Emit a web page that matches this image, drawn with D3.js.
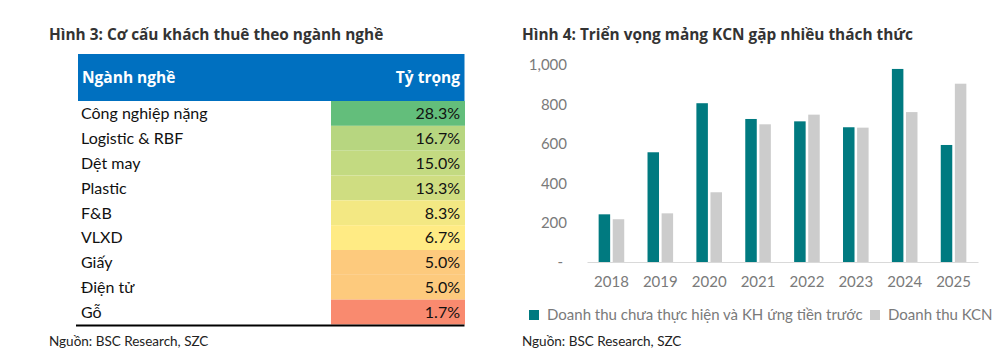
<!DOCTYPE html>
<html>
<head>
<meta charset="utf-8">
<script src="https://cdn.jsdelivr.net/npm/d3@7"></script>
<style>
  html, body { margin: 0; padding: 0; background: #fff; }
  svg { display: block; font-family: "Lato", "Open Sans", sans-serif; }
</style>
</head>
<body>
<svg id="chart" width="1006" height="359"></svg>
<script>
// ---- Data: left table ----
const leftTitle = "Hình 3: Cơ cấu khách thuê theo ngành nghề";
const tableHeaders = ["Ngành nghề", "Tỷ trọng"];
const industries = ["Công nghiệp nặng", "Logistic & RBF", "Dệt may", "Plastic", "F&B", "VLXD", "Giấy", "Điện tử", "Gỗ"];
const shares = [28.3, 16.7, 15.0, 13.3, 8.3, 6.7, 5.0, 5.0, 1.7];
const colorMidpoint = 6.7;

// ---- Data: right chart ----
const rightTitle = "Hình 4: Triển vọng mảng KCN gặp nhiều thách thức";
const years = ["2018", "2019", "2020", "2021", "2022", "2023", "2024", "2025"];
const seriesNames = ["Doanh thu chưa thực hiện và KH ứng tiền trước", "Doanh thu KCN"];
const unrealizedRevenue = [242, 557, 806, 726, 714, 684, 980, 594];
const kcnRevenue = [217, 247, 354, 699, 748, 682, 761, 905];
const yTicks = [0, 200, 400, 600, 800, 1000];
const sourceText = "Nguồn: BSC Research, SZC";

const svg = d3.select("#chart");
const boldFont = "'Open Sans', Lato, sans-serif";

// ================= LEFT TABLE =================
const L = svg.append("g");
L.append("text").attr("x", 49).attr("y", 40)
  .attr("font-family", boldFont)
  .attr("font-size", 15.4).attr("font-weight", 700).attr("fill", "#333")
  .text(leftTitle);

const tableX0 = 78, tableX1 = 464.5;
L.append("rect").attr("x", tableX0).attr("y", 54).attr("width", tableX1 - tableX0).attr("height", 47)
  .attr("fill", "#0070C0");
L.append("text").attr("x", 82).attr("y", 83).attr("font-size", 15.5).attr("font-weight", 700)
  .attr("font-family", boldFont).attr("fill", "#fff").text(tableHeaders[0]);
L.append("text").attr("x", 460).attr("y", 83).attr("font-size", 15.5).attr("font-weight", 700)
  .attr("font-family", boldFont).attr("fill", "#fff").attr("text-anchor", "end").text(tableHeaders[1]);

const rowY = d3.scaleBand().domain(industries).range([101, 324.5]).padding(0);
const colorScale = d3.scaleLinear()
  .domain([d3.min(shares), colorMidpoint, d3.max(shares)])
  .range(["#F98A6F", "#FFEB84", "#63BE7B"]);

const rows = L.selectAll("g.row").data(industries).join("g").attr("class", "row")
  .attr("transform", d => `translate(0,${rowY(d)})`);
rows.append("rect").attr("x", 331).attr("y", 0).attr("width", 134).attr("height", rowY.bandwidth())
  .attr("fill", (d, i) => colorScale(shares[i]));
rows.append("text").attr("x", 81).attr("y", rowY.bandwidth() / 2).attr("dy", "0.36em")
  .attr("font-size", 16).attr("fill", "#111").text(d => d);
rows.append("text").attr("x", 460).attr("y", rowY.bandwidth() / 2).attr("dy", "0.36em")
  .attr("font-size", 16).attr("fill", "#111").attr("text-anchor", "end")
  .text((d, i) => d3.format(".1f")(shares[i]) + "%");

L.append("line").attr("x1", 76).attr("x2", 464.5).attr("y1", 325.5).attr("y2", 325.5)
  .attr("stroke", "#000").attr("stroke-width", 2);
L.append("text").attr("x", 49).attr("y", 346).attr("font-size", 13.5).attr("fill", "#222")
  .text(sourceText);

// ================= RIGHT CHART =================
const R = svg.append("g");
R.append("text").attr("x", 522).attr("y", 40)
  .attr("font-family", boldFont)
  .attr("font-size", 15.4).attr("font-weight", 700).attr("fill", "#333")
  .text(rightTitle);

const x0 = d3.scaleBand().domain(years).range([587, 978]).padding(0);
const x1 = d3.scaleBand().domain(seriesNames).range([0, x0.bandwidth()])
  .paddingInner(0.184).paddingOuter(0.826);
const y = d3.scaleLinear().domain([0, 1000]).range([262, 65]);
const colors = ["#007A80", "#CCCCCC"];
const seriesValues = [unrealizedRevenue, kcnRevenue];

// y axis labels
const yAxis = d3.axisLeft(y).tickValues(yTicks).tickSize(0).tickPadding(0)
  .tickFormat(d => d === 0 ? "-" : d3.format(",")(d));
const gy = R.append("g").attr("transform", "translate(567,0)").call(yAxis);
gy.select(".domain").remove();
gy.selectAll("text").attr("font-size", 15).attr("fill", "#7a7a7a")
  .attr("font-family", "Lato, 'Open Sans', sans-serif");
gy.selectAll(".tick").filter(d => d === 0).select("text").attr("dx", -4);

// bars
const groups = R.selectAll("g.year").data(years).join("g").attr("class", "year")
  .attr("transform", d => `translate(${x0(d)},0)`);
seriesNames.forEach((s, si) => {
  groups.append("rect")
    .attr("x", x1(s))
    .attr("width", x1.bandwidth())
    .attr("y", (d, i) => y(seriesValues[si][i]))
    .attr("height", (d, i) => y(0) - y(seriesValues[si][i]))
    .attr("fill", colors[si]);
});

// x axis
const xAxis = d3.axisBottom(x0).tickSize(0).tickPadding(14);
const gx = R.append("g").attr("transform", `translate(0,${y(0)})`).call(xAxis);
gx.select(".domain").attr("stroke", "#D9D9D9").attr("stroke-width", 1);
gx.selectAll("text").attr("font-size", 15).attr("fill", "#7a7a7a")
  .attr("font-family", "Lato, 'Open Sans', sans-serif");

// legend
const legend = R.append("g").attr("transform", "translate(529,310)");
const legendX = [0, 341];
seriesNames.forEach((s, si) => {
  const g = legend.append("g").attr("transform", `translate(${legendX[si]},0)`);
  g.append("rect").attr("width", 10).attr("height", 10).attr("fill", colors[si]);
  g.append("text").attr("x", 18).attr("y", 5).attr("dy", "0.36em")
    .attr("font-size", 15).attr("fill", "#7a7a7a").text(s);
});

R.append("text").attr("x", 522).attr("y", 346).attr("font-size", 13.5).attr("fill", "#222")
  .text(sourceText);
</script>
</body>
</html>
